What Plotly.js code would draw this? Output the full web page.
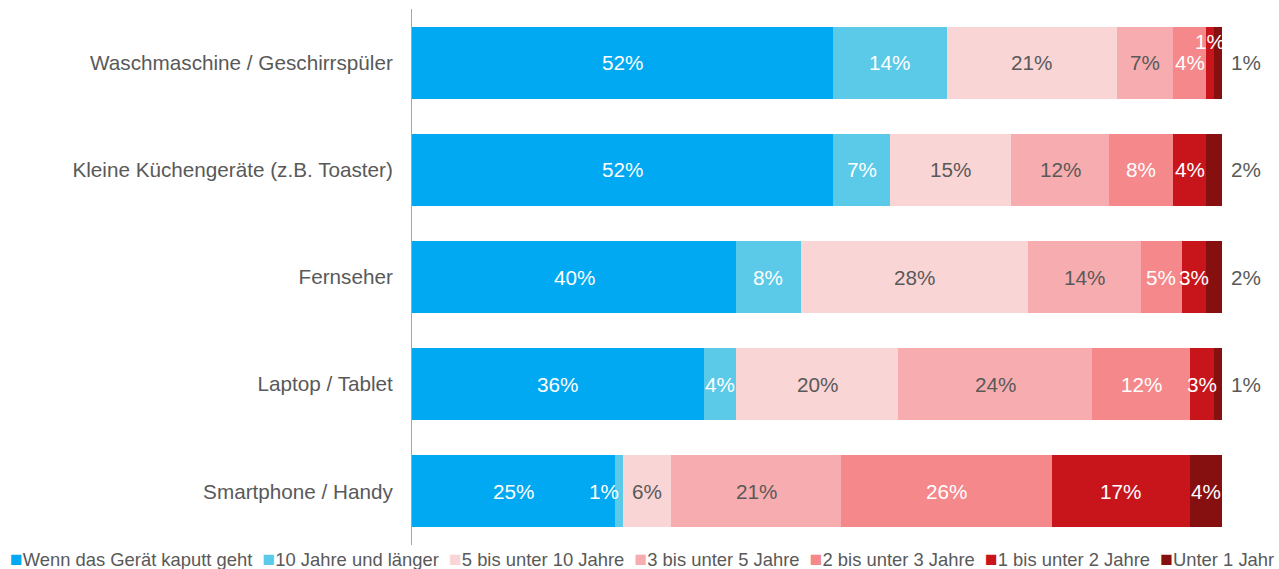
<!DOCTYPE html>
<html><head><meta charset="utf-8">
<script src="https://cdn.plot.ly/plotly-3.0.1.min.js"></script>
<style>html,body{margin:0;padding:0;background:#fff}#chart{width:1279px;height:569px}</style>
</head><body><div id="chart"></div>
<script>
// ---- data ----
const categories = ["Waschmaschine / Geschirrspüler", "Kleine Küchengeräte (z.B. Toaster)", "Fernseher", "Laptop / Tablet", "Smartphone / Handy"];
const seriesNames = ["Wenn das Gerät kaputt geht", "10 Jahre und länger", "5 bis unter 10 Jahre", "3 bis unter 5 Jahre", "2 bis unter 3 Jahre", "1 bis unter 2 Jahre", "Unter 1 Jahr"];
const wennKaputt   = [52, 52, 40, 36, 25];
const zehnJahre    = [14, 7, 8, 4, 1];
const fuenfBisZehn = [21, 15, 28, 20, 6];
const dreiBisFuenf = [7, 12, 14, 24, 21];
const zweiBisDrei  = [4, 8, 5, 12, 26];
const einsBisZwei  = [1, 4, 3, 3, 17];
const unterEins    = [1, 2, 2, 1, 4];
const seriesValues = [wennKaputt, zehnJahre, fuenfBisZehn, dreiBisFuenf, zweiBisDrei, einsBisZwei, unterEins];

// ---- styles ----
const colors = ["#00A9F1", "#5BC9E8", "#FAD5D6", "#F7ADAF", "#F4888B", "#C8151C", "#85100F"];
const grey = "#595959";
const labelColors = ["#FFFFFF", "#FFFFFF", grey, grey, "#FFFFFF", "#FFFFFF", "#FFFFFF"];
const FONT = "Liberation Sans, Arial, sans-serif";
const LABEL_SIZE = 20.7;
const LEGEND_SIZE = 18.4;
// label placement tweaks (series index, category index)
const labelTweaks = [
  {s: 5, c: 0, yshift: 21},
  {s: 1, c: 4, xshift: -15}
];

const traces = seriesValues.map((vals, s) => ({
  type: "bar", orientation: "h", name: seriesNames[s],
  x: vals, y: categories,
  marker: {color: colors[s], line: {width: 0}},
  hoverinfo: "name+x", textposition: "none", showlegend: false
}));

const annotations = [];
categories.forEach((cat, c) => {
  let start = 0;
  seriesValues.forEach((vals, s) => {
    const v = vals[c];
    const a = {
      x: start + v / 2, y: cat, xref: "x", yref: "y",
      text: v + "%", showarrow: false,
      font: {family: FONT, size: LABEL_SIZE, color: labelColors[s]},
      xanchor: "center", yanchor: "middle"
    };
    if (s === seriesValues.length - 1 && v < 3) {
      a.x = start + v; a.xanchor = "left"; a.xshift = 7; a.font.color = grey;
    }
    labelTweaks.forEach(tw => {
      if (tw.s === s && tw.c === c) {
        if (tw.xshift) a.xshift = tw.xshift;
        if (tw.yshift) a.yshift = tw.yshift;
      }
    });
    annotations.push(a);
    start += v;
  });
});

// legend line (one entry per series, coloured square + name)
const legendText = seriesNames.map((n, i) =>
  '<span style="color:' + colors[i] + ';font-size:21px">■</span>' + n).join('\u00A0\u00A0');
annotations.push({
  xref: "paper", yref: "paper", x: -0.4975, y: -0.026, xanchor: "left", yanchor: "middle",
  text: legendText, showarrow: false, align: "left", borderpad: 0,
  font: {family: FONT, size: LEGEND_SIZE, color: grey}
});

const layout = {
  width: 1279, height: 569,
  paper_bgcolor: "#FFFFFF", plot_bgcolor: "#FFFFFF",
  margin: {l: 412, r: 57, t: 9, b: 24, autoexpand: false},
  barmode: "stack", bargap: 0.33,
  font: {family: FONT, color: grey},
  xaxis: {range: [0, 100], visible: false, fixedrange: true},
  yaxis: {
    type: "category", categoryorder: "array", categoryarray: categories,
    autorange: "reversed", showline: true, linecolor: "#A6A6A6", linewidth: 1,
    showgrid: false, zeroline: false, ticks: "", ticklabelstandoff: 14,
    tickfont: {family: FONT, size: LABEL_SIZE, color: grey}, fixedrange: true
  },
  showlegend: false,
  annotations: annotations
};

Plotly.newPlot("chart", traces, layout, {displayModeBar: false, staticPlot: true});
</script>
</body></html>
